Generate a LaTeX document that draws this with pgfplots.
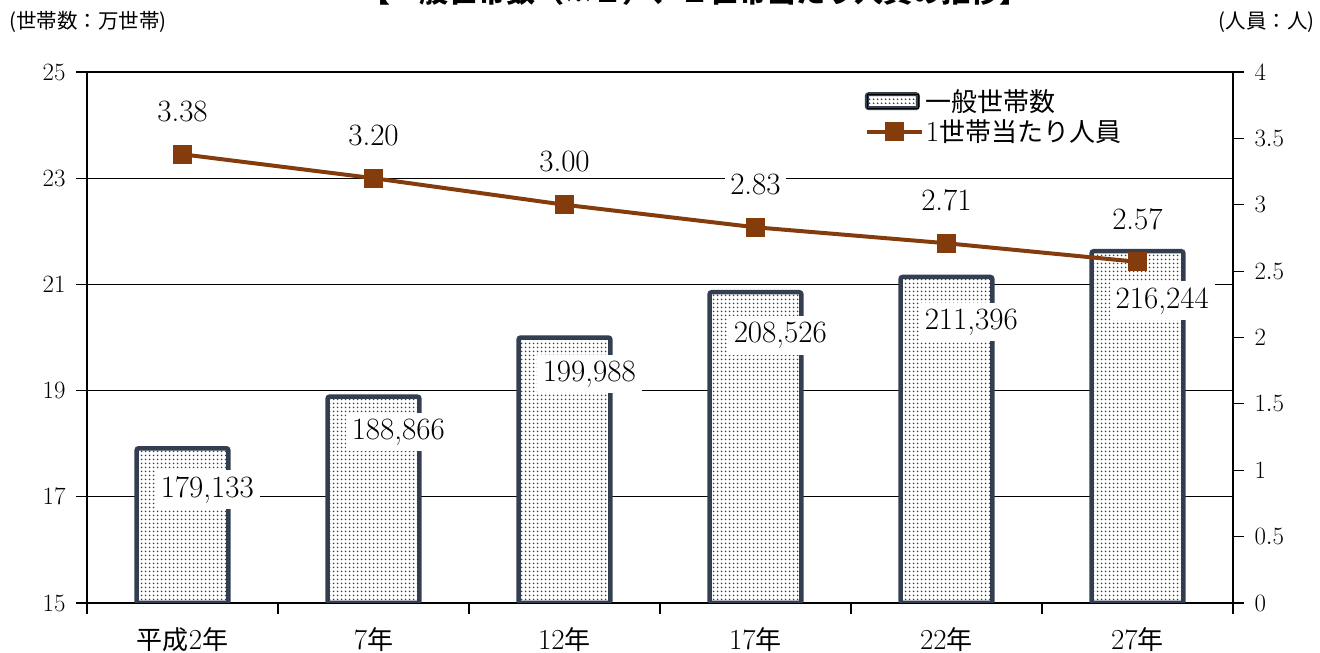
\documentclass[border=0pt]{standalone}
\usepackage{pgfplots}
\pgfplotsset{compat=1.18}
\usepackage{fontspec}
\newfontfamily\cjk{Noto Sans CJK JP}
\usetikzlibrary{patterns.meta}
\definecolor{navy}{HTML}{333F50}
\definecolor{brn}{HTML}{843C0C}
\tikzdeclarepattern{name=bardots, type=uncolored,
  bottom left={(0pt,0pt)}, top right={(4pt,4pt)}, tile size={(4pt,4pt)},
  code={\fill (2pt,2pt) circle (1.1pt);}}
\newcommand\lbl{\fontsize{31}{34}\selectfont}
\newcommand\tck{\fontsize{29}{32}\selectfont}
\newcommand\jp[1]{{\fontsize{26}{30}\selectfont\cjk #1}}

\begin{document}
\begin{tikzpicture}[x=1pt,y=1pt]
% left axis: households (10,000)
\begin{axis}[
    at={(87pt,50pt)}, anchor=south west,
    scale only axis, width=1146pt, height=531pt,
    xmin=-0.5, xmax=5.5, ymin=15, ymax=25,
    ytick={15,17,...,25},
    ymajorgrids, grid style={black, line width=1.2pt},
    axis x line*=bottom, axis y line*=left,
    axis line style={black, line width=1.5pt, -},
    xtick={0,...,5},
    xticklabels={\jp{平成}2\jp{年},7\jp{年},12\jp{年},17\jp{年},22\jp{年},27\jp{年}},
    minor xtick={-0.5,0.5,...,5.5},
    tick align=outside, major tick length=11pt, minor tick length=11pt,
    major x tick style={draw=none},
    tick style={black, line width=1.2pt},
    x tick label style={font=\fontsize{29}{32}\selectfont, yshift=-10pt},
    y tick label style={font=\tck, xshift=-7pt},
]
\addplot[ybar, bar width=0.48, bar shift=0pt, fill=white, draw=none]
  coordinates {(0,17.9133) (1,18.8866) (2,19.9988) (3,20.8526) (4,21.1396) (5,21.6244)};
\addplot[ybar, bar width=0.48, bar shift=0pt, draw=navy, line width=4.5pt,
    rounded corners=2pt, pattern={bardots}, pattern color=navy]
  coordinates {(0,17.9133) (1,18.8866) (2,19.9988) (3,20.8526) (4,21.1396) (5,21.6244)};
\node[fill=white, inner sep=6pt, font=\lbl] at (axis cs:0.13,17.13) {179,133};
\node[fill=white, inner sep=6pt, font=\lbl] at (axis cs:1.13,18.22) {188,866};
\node[fill=white, inner sep=6pt, font=\lbl] at (axis cs:2.13,19.31) {199,988};
\node[fill=white, inner sep=6pt, font=\lbl] at (axis cs:3.13,20.04) {208,526};
\node[fill=white, inner sep=6pt, font=\lbl] at (axis cs:4.13,20.29) {211,396};
\node[fill=white, inner sep=6pt, font=\lbl] at (axis cs:5.13,20.69) {216,244};
\end{axis}
% right axis: persons per household
\begin{axis}[
    at={(87pt,50pt)}, anchor=south west,
    scale only axis, width=1146pt, height=531pt,
    xmin=-0.5, xmax=5.5, ymin=0, ymax=4,
    ytick={0,0.5,...,4},
    axis x line=none, axis y line*=right,
    axis line style={black, line width=1.5pt, -},
    tick align=outside, major tick length=11pt,
    tick style={black, line width=1.2pt},
    y tick label style={font=\tck, xshift=7pt},
    clip=false,
    legend style={draw=none, fill=none, at={(0.676,0.975)}, anchor=north west,
        font=\fontsize{26}{30}\selectfont, row sep=3pt},
    legend cell align=left,
]
\addlegendimage{legend image code/.code={
    \draw[navy, line width=4pt, rounded corners=2pt, fill=white]
        (0pt,-7pt) rectangle (51pt,7pt);
    \fill[pattern={bardots}, pattern color=navy] (0pt,-7pt) rectangle (51pt,7pt);}}
\addlegendentry{\cjk 一般世帯数}
\addplot[brn, line width=4pt, mark=square*, mark size=7.5pt,
    mark options={solid, fill=brn},
    legend image code/.code={
      \draw[brn, line width=4pt] (0pt,0pt) -- (55pt,0pt);
      \fill[brn] (20pt,-7.5pt) rectangle (35pt,7.5pt);}]
  coordinates {(0,3.38) (1,3.20) (2,3.00) (3,2.83) (4,2.71) (5,2.57)};
\addlegendentry{{\fontsize{29}{30}\selectfont 1}{\cjk 世帯当たり人員}}
\node[fill=white, inner sep=5pt, font=\lbl, yshift=43pt] at (axis cs:0,3.38) {3.38};
\node[fill=white, inner sep=5pt, font=\lbl, yshift=43pt] at (axis cs:1,3.20) {3.20};
\node[fill=white, inner sep=5pt, font=\lbl, yshift=43pt] at (axis cs:2,3.00) {3.00};
\node[fill=white, inner sep=5pt, font=\lbl, yshift=43pt] at (axis cs:3,2.83) {2.83};
\node[fill=white, inner sep=5pt, font=\lbl, yshift=43pt] at (axis cs:4,2.71) {2.71};
\node[fill=white, inner sep=5pt, font=\lbl, yshift=43pt] at (axis cs:5,2.57) {2.57};
\end{axis}
\node[anchor=west, font=\fontsize{20.5}{23}\selectfont\cjk] at (6,631) {(世帯数：万世帯)};
\node[anchor=east, font=\fontsize{20.5}{23}\selectfont\cjk] at (1318,631) {(人員：人)};
\node[font=\fontsize{29}{32}\selectfont\cjk\bfseries] at (695,662) {【一般世帯数（※１）、１世帯当たり人員の推移】};
\pgfresetboundingbox
\useasboundingbox (0,0) rectangle (1320,653);
\end{tikzpicture}
\end{document}
